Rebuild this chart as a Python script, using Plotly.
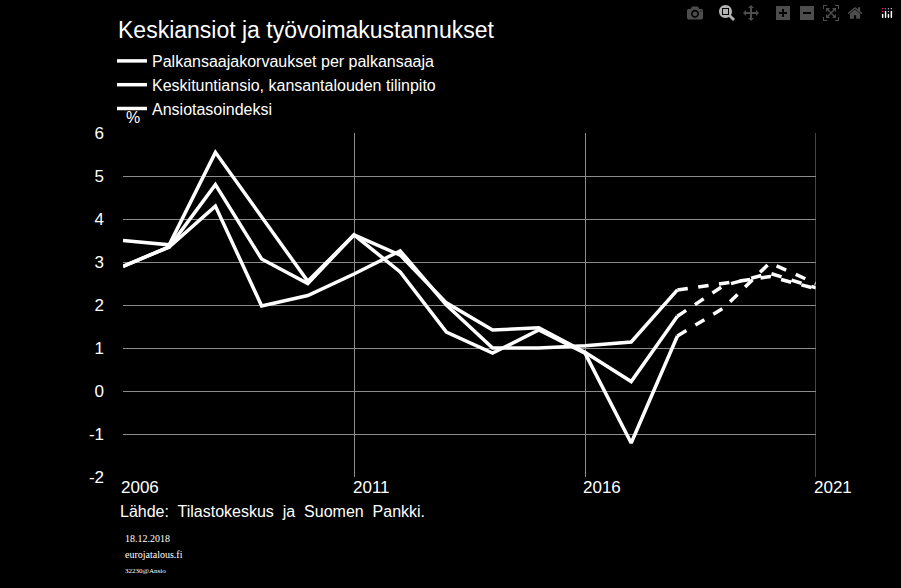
import plotly.graph_objects as go

years = list(range(2006, 2022))
palkansaajakorvaukset = [3.5, 3.4, 5.55, 4.05, 2.55, 3.63, 3.16, 2.05, 1.42, 1.47, 0.9, 0.22, 1.74, 2.45, 2.74, 2.4]
keskituntiansio = [2.9, 3.35, 4.8, 3.07, 2.5, 3.63, 2.77, 1.37, 0.88, 1.42, 0.88, -1.21, 1.28, 1.93, 2.98, 2.5]
ansiotasoindeksi = [2.9, 3.35, 4.3, 1.98, 2.22, 2.72, 3.26, 2.0, 1.0, 1.0, 1.05, 1.14, 2.35, 2.5, 2.66, 2.38]
names = ["Palkansaajakorvaukset per palkansaaja",
         "Keskituntiansio, kansantalouden tilinpito",
         "Ansiotasoindeksi"]
split = 12  # 2018 onwards forecast (dashed)
x_ticks = [2006, 2011, 2016, 2021]
y_ticks = [6, 5, 4, 3, 2, 1, 0, -1, -2]
y_labels = ["6", "5", "4", "3", "2", "1", "0", "-1", "-2"]

fig = go.Figure()
for name, vals in zip(names, [palkansaajakorvaukset, keskituntiansio, ansiotasoindeksi]):
    fig.add_trace(go.Scatter(x=years[:split + 1], y=vals[:split + 1], mode="lines", name=name,
                             line=dict(color="white", width=3.5)))
    fig.add_trace(go.Scatter(x=years[split:], y=vals[split:], mode="lines", showlegend=False,
                             line=dict(color="white", width=3.5, dash="dash")))

# plot area in pixels: x 123..816, y 133..477
def px(xp):
    return (xp - 123) / 693

def py(yp):
    return (477 - yp) / 344

grid = "#8c8c8c"
fig.update_layout(
    width=901, height=588,
    margin=dict(l=123, r=85, t=133, b=111),
    paper_bgcolor="black", plot_bgcolor="black",
    font=dict(family="Liberation Sans, Arial", size=16, color="white"),
    title=dict(text="Keskiansiot ja työvoimakustannukset", x=118 / 901, xanchor="left",
               y=1 - 30 / 588, yanchor="middle", font=dict(size=23, color="white")),
    legend=dict(x=px(112), y=py(44), xanchor="left", yanchor="top", bgcolor="rgba(0,0,0,0)",
                font=dict(size=16, color="white"), tracegroupgap=0, itemwidth=30),
    showlegend=True,
    xaxis=dict(range=[2006, 2021], tickvals=x_ticks, showticklabels=False, showgrid=True,
               gridcolor=grid, gridwidth=1, zeroline=False, showline=False),
    yaxis=dict(range=[-2, 6], tickvals=y_ticks, ticktext=y_labels, showgrid=True,
               gridcolor=grid, gridwidth=1, zeroline=False, showline=False,
               ticklabelstandoff=18, tickfont=dict(size=17, color="white")),
)
fig.add_shape(type="line", xref="x", yref="paper", x0=2021, x1=2021, y0=0, y1=1,
              line=dict(color=grid, width=1))

for yr in x_ticks:
    fig.add_annotation(x=yr, y=0, xref="x", yref="paper", text=str(yr), showarrow=False,
                       xshift=17, yshift=-22, font=dict(size=17, color="white"))
fig.add_annotation(x=px(124), y=py(128), xref="paper", yref="paper", text="%", showarrow=False,
                   xanchor="left", yanchor="bottom", font=dict(size=16, color="white"))
fig.add_annotation(x=px(118), y=py(522), xref="paper", yref="paper", xanchor="left",
                   text="Lähde:  Tilastokeskus  ja  Suomen  Pankki.", showarrow=False,
                   font=dict(size=16, color="white"))
for txt, ypix, sz in [("18.12.2018", 546, 10), ("eurojatalous.fi", 562, 10), ("32230@Ansio", 577, 7)]:
    fig.add_annotation(x=px(123), y=py(ypix), xref="paper", yref="paper", xanchor="left",
                       text=txt, showarrow=False,
                       font=dict(size=sz, color="white", family="Liberation Serif"))

fig.write_html("out.html",
               post_script="document.body.style.margin='0';document.body.style.background='black';")
